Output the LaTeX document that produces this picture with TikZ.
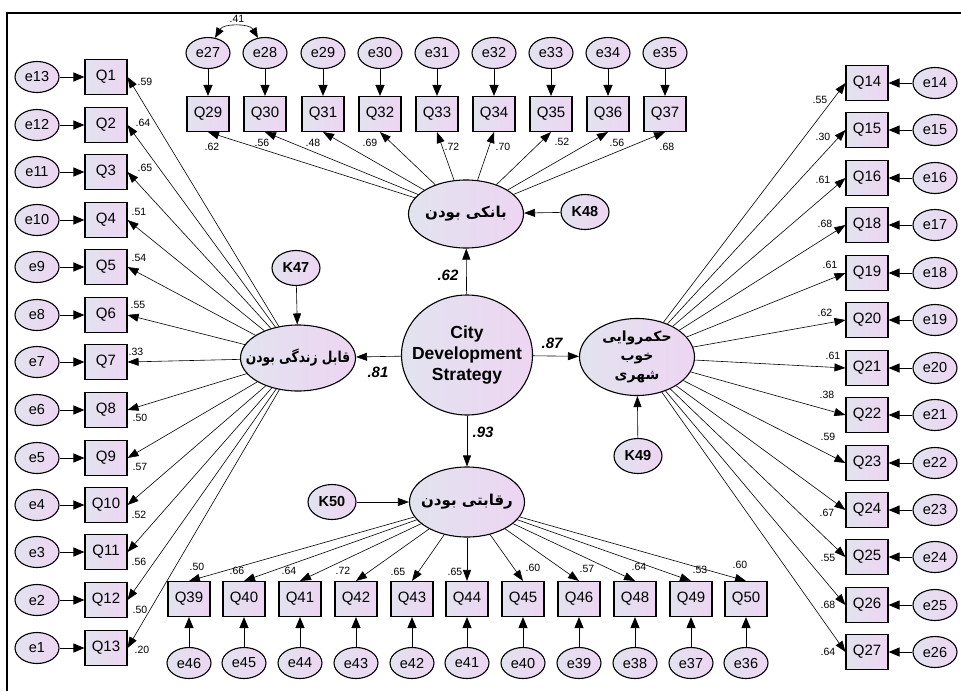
\documentclass[tikz,border=0pt]{standalone}
\usepackage{fontspec}
\setmainfont{Liberation Sans}
\newfontfamily\fafont[Script=Arabic]{DejaVu Sans}
\newfontfamily\fafontn[Script=Arabic, FakeStretch=0.82]{DejaVu Sans}
\TeXXeTstate=1
\usetikzlibrary{arrows.meta, shapes.geometric}
\definecolor{fill-L}{HTML}{E2E3EF}
\definecolor{fill-R}{HTML}{EDD5F2}
\tikzset{
  base/.style={draw=black, line width=1.1pt, left color=fill-L, right color=fill-R,
    inner sep=0pt, font=\fontsize{15}{17}\selectfont},
  obsbox/.style={base, rectangle, minimum width=42pt, minimum height=35pt},
  errnode/.style={base, ellipse, minimum width=44pt, minimum height=31pt,
    font=\fontsize{14.5}{16}\selectfont},
  resnode/.style={base, ellipse, minimum width=48pt, minimum height=35pt,
    font=\fontsize{14.5}{16}\selectfont\bfseries},
  latnode/.style={base, ellipse, minimum width=115pt, minimum height=68pt},
  lattext/.style={inner sep=0pt, align=center,
    font=\fontsize{15}{19}\selectfont\fafont\bfseries},
  regpath/.style={-{Triangle[length=11pt,width=8pt]}, line width=0.6pt},
  errpath/.style={-{Triangle[length=11pt,width=9pt]}, line width=1pt},
  loadlab/.style={font=\fontsize{10.5}{12}\selectfont, inner sep=0pt},
  coeflab/.style={font=\fontsize{15}{17}\selectfont\bfseries\itshape, inner sep=0pt}
}
\newcommand{\itemL}[6]{% \itemL{n}{y}{e}{Q}{loading}{(label)}
  \node[errnode] (eL#1) at (37,#2) {#3};
  \node[obsbox] (qL#1) at (106,#2) {#4};
  \draw[errpath] (eL#1) -- (qL#1);
  \draw[regpath] (liv) -- (qL#1.east);
  \node[loadlab] (lL#1) at #6 {#5};}
\newcommand{\itemR}[6]{% \itemR{n}{y}{e}{Q}{loading}{(label)}
  \node[errnode] (eR#1) at (935,#2) {#3};
  \node[obsbox] (qR#1) at (867,#2) {#4};
  \draw[errpath] (eR#1) -- (qR#1);
  \draw[regpath] (gov) -- (qR#1.west);
  \node[loadlab] (lR#1) at #6 {#5};}
\newcommand{\itemT}[6]{% \itemT{n}{x}{e}{Q}{loading}{(label)}
  \node[errnode] (eT#1) at (#2,53) {#3};
  \node[obsbox] (qT#1) at (#2,114) {#4};
  \draw[errpath] (eT#1) -- (qT#1);
  \draw[regpath] (bank) -- (qT#1.south);
  \node[loadlab] (lT#1) at #6 {#5};}
\newcommand{\itemB}[6]{% \itemB{n}{x}{e}{Q}{loading}{(label)}
  \node[errnode] (eB#1) at (#2,663) {#3};
  \node[obsbox] (qB#1) at (#2,599) {#4};
  \draw[errpath] (eB#1) -- (qB#1);
  \draw[regpath] (comp) -- (qB#1.north);
  \node[loadlab] (lB#1) at #6 {#5};}

\begin{document}
\begin{tikzpicture}[x=1pt, y=-1pt]
  \useasboundingbox (0,0) rectangle (961,691);
  \draw[line width=1.8pt] (7,691) -- (7,13) -- (961,13);
  % latent variables
  \node[latnode, minimum width=131pt, minimum height=120pt] (cds) at (467,355) {};
  \node[lattext, font=\fontsize{17.5}{21}\selectfont\bfseries] (cdsT) at (cds)
        {City\\Development\\Strategy};
  \node[latnode, minimum height=66pt] (liv) at (298,358) {};
  \node[lattext, font=\fontsize{15}{19}\selectfont\fafontn\bfseries] (livT) at (liv)
        {\beginR قابل زندگی بودن\endR};
  \node[latnode] (bank) at (466,214) {};
  \node[lattext] (bankT) at (bank) {\beginR بانکی بودن\endR};
  \node[latnode, minimum height=77pt] (gov) at (637,357) {};
  \node[lattext, font=\fontsize{14}{19}\selectfont\fafont\bfseries] (govT) at (gov)
        {\beginR حکمروایی\endR\\\beginR خوب\endR\\\beginR شهری\endR};
  \node[latnode, minimum height=70pt] (comp) at (467,502) {};
  \node[lattext] (compT) at (comp) {\beginR رقابتی بودن\endR};
  % residuals
  \node[resnode] (k47) at (296,268) {K47};
  \node[resnode] (k48) at (585,212) {K48};
  \node[resnode] (k49) at (638,456) {K49};
  \node[resnode] (k50) at (332,502) {K50};
  \draw[regpath] (k47) -- (liv);
  \draw[regpath] (k48) -- (bank);
  \draw[regpath] (k49) -- (gov);
  \draw[regpath] (k50) -- (comp);
  % structural paths
  \draw[regpath] (cds) -- (bank);
  \draw[regpath] (cds) -- (liv);
  \draw[regpath] (cds) -- (gov);
  \draw[regpath] (cds) -- (comp);
  \node[coeflab] (c62) at (448,275) {.62};
  \node[coeflab] (c81) at (378,372) {.81};
  \node[coeflab] (c87) at (552,343) {.87};
  \node[coeflab] (c93) at (483,432) {.93};
  % left: livability items
  \itemL{1}{77}{e13}{Q1}{.59}{(145,82)}
  \itemL{2}{125}{e12}{Q2}{.64}{(143,123)}
  \itemL{3}{172}{e11}{Q3}{.65}{(145,168)}
  \itemL{4}{220}{e10}{Q4}{.51}{(139,212)}
  \itemL{5}{267}{e9}{Q5}{.54}{(139,258)}
  \itemL{6}{315}{e8}{Q6}{.55}{(138,305)}
  \itemL{7}{362}{e7}{Q7}{.33}{(136,352)}
  \itemL{8}{410}{e6}{Q8}{.50}{(140,418)}
  \itemL{9}{458}{e5}{Q9}{.57}{(140,467)}
  \itemL{10}{505}{e4}{Q10}{.52}{(139,515)}
  \itemL{11}{552}{e3}{Q11}{.56}{(139,562)}
  \itemL{12}{600}{e2}{Q12}{.50}{(140,610)}
  \itemL{13}{648}{e1}{Q13}{.20}{(142,650)}
  % right: governance items
  \itemR{1}{83}{e14}{Q14}{.55}{(820,100)}
  \itemR{2}{130}{e15}{Q15}{.30}{(823,137)}
  \itemR{3}{178}{e16}{Q16}{.61}{(823,180)}
  \itemR{4}{225}{e17}{Q18}{.68}{(825,224)}
  \itemR{5}{273}{e18}{Q19}{.61}{(830,265)}
  \itemR{6}{320}{e19}{Q20}{.62}{(825,313)}
  \itemR{7}{368}{e20}{Q21}{.61}{(833,356)}
  \itemR{8}{415}{e21}{Q22}{.38}{(827,395)}
  \itemR{9}{463}{e22}{Q23}{.59}{(828,437)}
  \itemR{10}{510}{e23}{Q24}{.67}{(827,513)}
  \itemR{11}{557}{e24}{Q25}{.55}{(828,558)}
  \itemR{12}{605}{e25}{Q26}{.68}{(828,605)}
  \itemR{13}{652}{e26}{Q27}{.64}{(828,652)}
  % top: bankability items
  \itemT{1}{208}{e27}{Q29}{.62}{(212,147)}
  \itemT{2}{265}{e28}{Q30}{.56}{(262,143)}
  \itemT{3}{323}{e29}{Q31}{.48}{(313,143)}
  \itemT{4}{380}{e30}{Q32}{.69}{(370,143)}
  \itemT{5}{437}{e31}{Q33}{.72}{(452,147)}
  \itemT{6}{494}{e32}{Q34}{.70}{(503,147)}
  \itemT{7}{551}{e33}{Q35}{.52}{(562,142)}
  \itemT{8}{608}{e34}{Q36}{.56}{(617,143)}
  \itemT{9}{665}{e35}{Q37}{.68}{(667,147)}
  \draw[{Triangle[length=10pt,width=8pt]}-{Triangle[length=10pt,width=8pt]}, line width=0.6pt]
        (eT1.65) to[out=60, in=120] (eT2.115);
  \node[loadlab] (cov) at (237,19) {.41};
  % bottom: competitiveness items
  \itemB{1}{189}{e46}{Q39}{.50}{(197,567)}
  \itemB{2}{244}{e45}{Q40}{.66}{(237,571)}
  \itemB{3}{300}{e44}{Q41}{.64}{(289,571)}
  \itemB{4}{356}{e43}{Q42}{.72}{(343,571)}
  \itemB{5}{412}{e42}{Q43}{.65}{(398,572)}
  \itemB{6}{467}{e41}{Q44}{.65}{(455,572)}
  \itemB{7}{523}{e40}{Q45}{.60}{(533,568)}
  \itemB{8}{579}{e39}{Q46}{.57}{(587,569)}
  \itemB{9}{635}{e38}{Q48}{.64}{(639,567)}
  \itemB{10}{691}{e37}{Q49}{.53}{(700,570)}
  \itemB{11}{746}{e36}{Q50}{.60}{(740,565)}
\end{tikzpicture}
\end{document}
